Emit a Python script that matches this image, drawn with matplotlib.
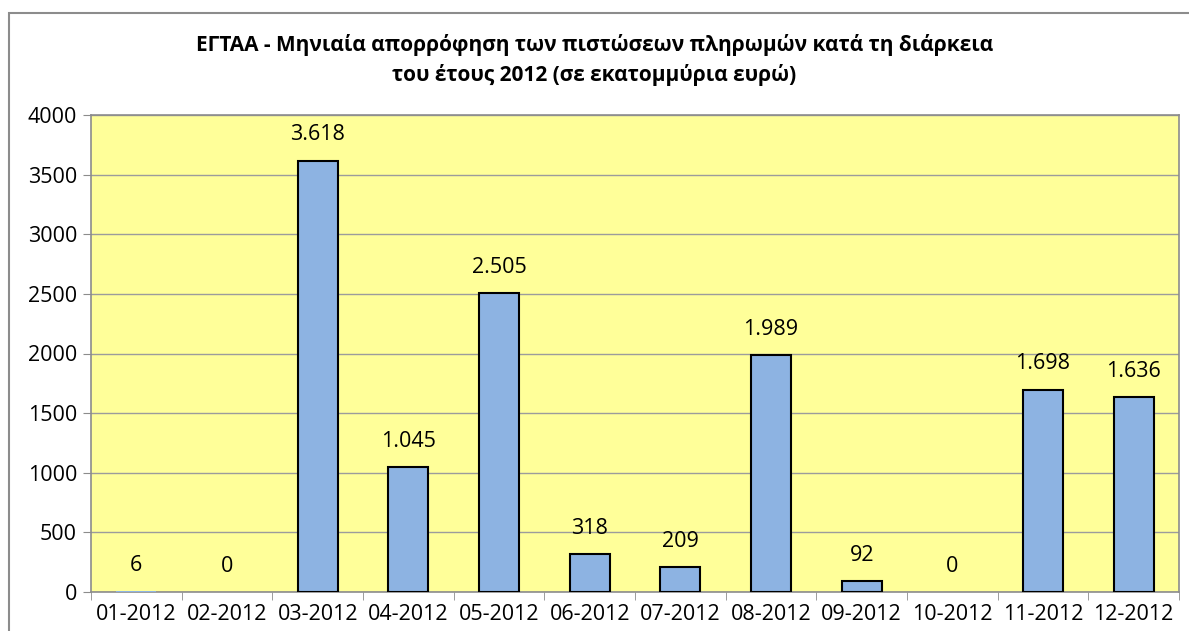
import numpy as np
import matplotlib
matplotlib.use("Agg")
import matplotlib.pyplot as plt
from matplotlib.patches import Rectangle

months = ["01-2012", "02-2012", "03-2012", "04-2012", "05-2012", "06-2012",
          "07-2012", "08-2012", "09-2012", "10-2012", "11-2012", "12-2012"]
values = [6, 0, 3618, 1045, 2505, 318, 209, 1989, 92, 0, 1698, 1636]
title = ("ΕΓΤΑΑ - Μηνιαία απορρόφηση των πιστώσεων πληρωμών κατά τη διάρκεια\n"
         "του έτους 2012 (σε εκατομμύρια ευρώ)")

plt.rcParams.update({"font.family": ["Open Sans", "DejaVu Sans"], "font.size": 15.5})

fig = plt.figure(figsize=(11.89, 6.31), dpi=100)
ax = fig.add_axes([91 / 1189, 1 - 592 / 631, (1179 - 91) / 1189, (592 - 115) / 631])

# outer chart frame (runs off the right and bottom edges)
fig.patches.append(Rectangle((9 / 1189, -0.05), 1.2, 1 - 13 / 631 + 0.05,
                             transform=fig.transFigure, fill=False,
                             edgecolor="#8C8C8C", linewidth=1.5))

x = np.arange(len(months))
ax.set_facecolor("#FFFF99")
# tiny values give no visible bar in the original
lws = [1.5 if v > 20 else 0 for v in values]
ax.bar(x, values, width=0.44, color="#8DB3E2", edgecolor="black", linewidth=lws, zorder=3)
for xi, v in zip(x, values):
    ax.annotate(f"{v:,}".replace(",", "."), (xi, v), xytext=(0, 11),
                textcoords="offset points", ha="center", va="bottom", fontsize=15.5)

ax.set_xlim(-0.5, len(months) - 0.5)
ax.set_ylim(0, 4000)
ax.set_yticks(np.arange(0, 4001, 500))
ax.set_xticks(x)
ax.set_xticklabels(months)
ax.set_xticks(np.arange(-0.5, len(months), 1), minor=True)
ax.tick_params(axis="x", which="major", length=0, pad=9)
ax.tick_params(axis="x", which="minor", length=6, color="#8C8C8C")
ax.tick_params(axis="y", length=6, color="#8C8C8C", pad=4)
ax.grid(axis="y", color="#9C9C9C", linewidth=1, zorder=0)
for s in ax.spines.values():
    s.set_color("#8C8C8C")
    s.set_linewidth(1.2)

fig.text(0.5, 1 - 60 / 631, title, ha="center", va="center", fontsize=15,
         fontweight="bold", linespacing=1.45)

fig.savefig("out.png", dpi=100, facecolor="white")
